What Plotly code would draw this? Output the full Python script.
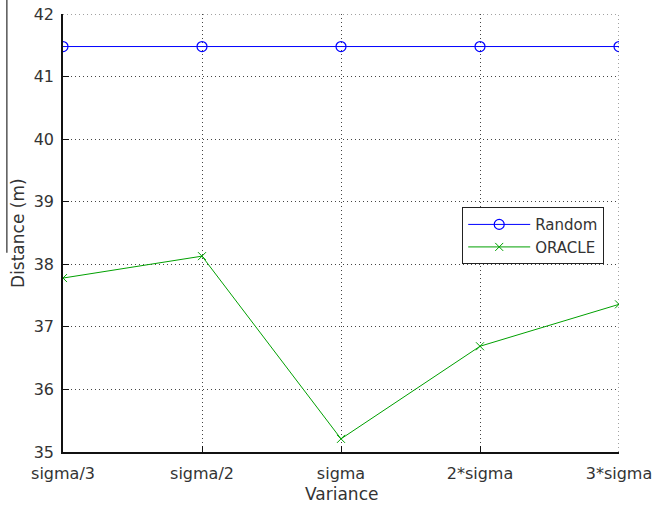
import plotly.graph_objects as go

categories = ["sigma/3", "sigma/2", "sigma", "2*sigma", "3*sigma"]
random_vals = [41.48, 41.48, 41.48, 41.48, 41.48]
oracle_vals = [37.78, 38.13, 35.21, 36.69, 37.36]
y_ticks = [35, 36, 37, 38, 39, 40, 41, 42]

xpos = list(range(len(categories)))
font = "DejaVu Sans, sans-serif"
txt = "#333333"
grid_style = dict(showgrid=True, gridcolor="#444444", griddash="1px,3px", gridwidth=1)

fig = go.Figure()
fig.add_trace(go.Scatter(x=xpos, y=random_vals, name="Random", mode="lines+markers",
                         line=dict(color="#0000ff", width=1),
                         marker=dict(symbol="circle-open", size=10, color="#0000ff", line=dict(width=1.2))))
fig.add_trace(go.Scatter(x=xpos, y=oracle_vals, name="ORACLE", mode="lines+markers",
                         line=dict(color="#00a000", width=1),
                         marker=dict(symbol="x-thin-open", size=8, color="#00a000", line=dict(width=1, color="#00a000"))))

fig.update_layout(
    width=654, height=509,
    margin=dict(l=63, r=35, t=14, b=57, autoexpand=False),
    paper_bgcolor="white", plot_bgcolor="white",
    font=dict(family=font, size=15, color=txt),
    legend=dict(x=0.718, y=0.559, xanchor="left", yanchor="top",
                bordercolor="#222222", borderwidth=1, bgcolor="white",
                font=dict(size=15, color=txt), tracegroupgap=0, itemwidth=62),
    showlegend=True,
)
fig.update_xaxes(range=[0, 4], tickvals=xpos, ticktext=categories,
                 showline=True, linecolor="#111111", linewidth=1.5,
                 ticks="inside", ticklen=6, tickcolor="#111111",
                 ticklabelstandoff=6, automargin=False, tickfont=dict(size=16),
                 zeroline=False, **grid_style)
fig.update_yaxes(range=[35, 42], tickvals=y_ticks,
                 showline=True, linecolor="#111111", linewidth=1.5,
                 ticks="inside", ticklen=6, tickcolor="#111111",
                 ticklabelstandoff=4, automargin=False, tickfont=dict(size=16),
                 zeroline=False, **grid_style)
fig.add_shape(type="line", xref="x", yref="y", x0=4, x1=4, y0=35, y1=42,
              line=dict(color="#444444", width=1, dash="1px,3px"))
fig.add_shape(type="line", xref="x", yref="y", x0=0, x1=4, y0=42, y1=42,
              line=dict(color="#444444", width=1, dash="1px,3px"))
fig.add_annotation(text="Variance", xref="paper", yref="paper", x=0.5, y=-0.096,
                   xanchor="center", yanchor="middle", showarrow=False,
                   font=dict(size=17, color=txt))
fig.add_annotation(text="Distance (m)", xref="paper", yref="paper", x=-0.081, y=0.5,
                   xanchor="center", yanchor="middle", textangle=-90, showarrow=False,
                   font=dict(size=17, color=txt))
fig.add_shape(type="line", xref="paper", yref="paper",
              x0=-0.101, x1=-0.101, y0=1.032, y1=0.455,
              line=dict(color="#555555", width=1.5))
fig.write_html("out.html", config={"displayModeBar": False},
               post_script="document.body.style.margin='0';document.body.style.padding='0';")
